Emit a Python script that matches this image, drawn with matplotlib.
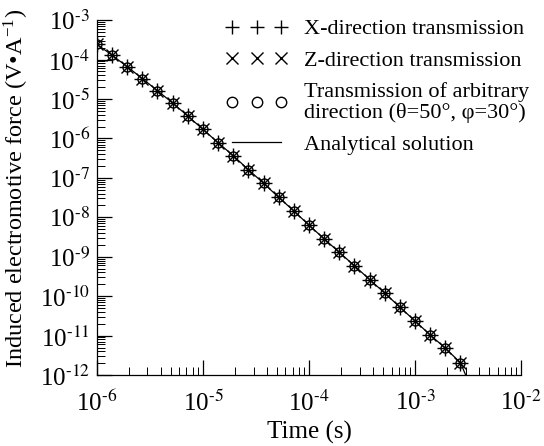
#!/usr/bin/env python3
"""Induced EMF decay vs time: three transmission directions vs analytical solution."""
import numpy as np
import matplotlib
matplotlib.use("Agg")
import matplotlib.pyplot as plt
from matplotlib.lines import Line2D
from matplotlib.ticker import LogLocator, NullFormatter, FuncFormatter

# sample times (s), 7 per decade
TIME = [1.00e-6, 1.39e-6, 1.93e-6, 2.68e-6, 3.73e-6, 5.18e-6, 7.20e-6,
        1.00e-5, 1.39e-5, 1.93e-5, 2.68e-5, 3.73e-5, 5.18e-5, 7.20e-5,
        1.00e-4, 1.39e-4, 1.93e-4, 2.68e-4, 3.73e-4, 5.18e-4, 7.20e-4,
        1.00e-3, 1.39e-3, 1.93e-3, 2.68e-3]

# induced EMF (V/A); all three directions coincide
EMF_X = [2.45e-4, 1.29e-4, 6.6e-5, 3.3e-5, 1.62e-5, 7.9e-6, 3.7e-6,
         1.70e-6, 7.8e-7, 3.65e-7, 1.62e-7, 7.3e-8, 3.2e-8, 1.45e-8,
         6.3e-9, 2.85e-9, 1.29e-9, 5.95e-10, 2.63e-10, 1.20e-10, 5.25e-11,
         2.35e-11, 1.04e-11, 4.8e-12, 2.05e-12]
EMF_Z = list(EMF_X)
EMF_ARB = list(EMF_X)

# analytical curve: same nodes plus the end where it meets the axis
TIME_AN = TIME + [3.0e-3]
EMF_AN = EMF_X + [1.0e-12]

LABELS = ["X-direction transmission",
          "Z-direction transmission",
          "Transmission of arbitrary\ndirection (\u03b8=50\u00b0, \u03c6=30\u00b0)",
          "Analytical solution"]


def pow10(v, pos):
    e = int(round(np.log10(v)))
    return r"$\mathregular{10^{\text{%d}}}$" % e


def main():
    plt.rcParams.update({
        "font.family": ["Liberation Serif", "DejaVu Serif"],
        "mathtext.fontset": "stix",
        "font.size": 16,
    })
    fig = plt.figure(figsize=(5.44, 4.46), dpi=100)
    ax = fig.add_axes([0.178, 0.159, 0.780, 0.796])

    ax.plot(TIME_AN, EMF_AN, color="k", lw=0.9, zorder=1)
    ax.plot(TIME, EMF_X, ls="none", marker="+", ms=11, mew=1.0, color="k")
    ax.plot(TIME, EMF_Z, ls="none", marker="x", ms=9, mew=1.0, color="k")
    ax.plot(TIME, EMF_ARB, ls="none", marker="o", ms=6.5, mew=1.0,
            mfc="none", color="k")

    ax.set_xscale("log")
    ax.set_yscale("log")
    ax.set_xlim(1e-6, 1e-2)
    ax.set_ylim(1e-12, 1e-3)

    ax.spines["top"].set_visible(False)
    ax.spines["right"].set_visible(False)
    for s in ("left", "bottom"):
        ax.spines[s].set_linewidth(0.9)

    ax.xaxis.set_major_locator(LogLocator(base=10, numticks=10))
    ax.yaxis.set_major_locator(LogLocator(base=10, numticks=20))
    ax.xaxis.set_minor_locator(LogLocator(base=10, subs=range(2, 10), numticks=20))
    ax.yaxis.set_minor_locator(LogLocator(base=10, subs=range(2, 10), numticks=20))
    ax.xaxis.set_major_formatter(FuncFormatter(pow10))
    ax.yaxis.set_major_formatter(FuncFormatter(pow10))
    ax.xaxis.set_minor_formatter(NullFormatter())
    ax.yaxis.set_minor_formatter(NullFormatter())
    ax.tick_params(which="major", direction="in", length=11, width=0.9,
                   labelsize=18)
    ax.tick_params(which="minor", direction="in", length=5.5, width=0.7)
    ax.tick_params(axis="x", which="major", pad=11)
    ax.tick_params(axis="y", which="major", pad=5)
    ax.tick_params(top=False, right=False)

    ax.set_xlabel("Time (s)", fontsize=18, labelpad=4)
    ax.set_ylabel("Induced electromotive force (V\u2022A$^{\\mathregular{-1}}$)",
                  fontsize=17.5)
    ax.yaxis.set_label_coords(-0.155, 0.525)

    handles = [
        Line2D([], [], ls="none", marker="+", ms=10, mew=1.0, color="k"),
        Line2D([], [], ls="none", marker="x", ms=8, mew=1.0, color="k"),
        Line2D([], [], ls="none", marker="o", ms=7.5, mew=1.0, mfc="none", color="k"),
        Line2D([], [], color="k", lw=0.9),
    ]
    leg = fig.legend(handles, LABELS, loc="upper right",
                     bbox_to_anchor=(1.0, 0.99), frameon=False, numpoints=3,
                     handlelength=2.8, handletextpad=0.75, labelspacing=0.5,
                     fontsize=16, borderaxespad=0.25)
    for t in leg.get_texts():
        t.set_linespacing(1.05)

    fig.savefig("out.png", dpi=100)
    plt.close(fig)


if __name__ == "__main__":
    main()
